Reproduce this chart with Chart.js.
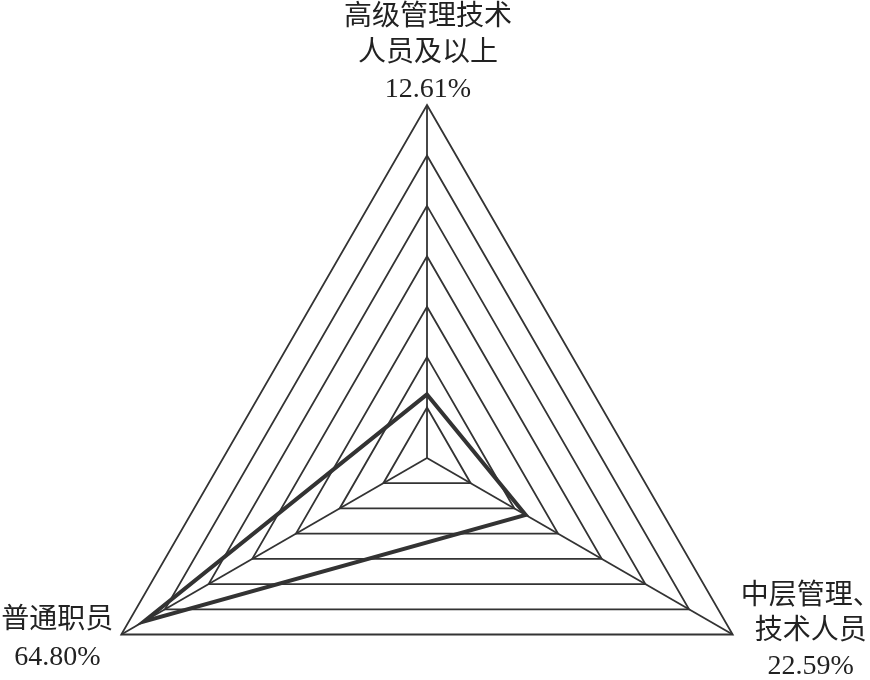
<!DOCTYPE html>
<html lang="zh">
<head>
    <meta charset="UTF-8">
    <title>职级分布雷达图</title>
    <script src="https://cdn.jsdelivr.net/npm/chart.js@4.4.2/dist/chart.umd.min.js"></script>
    <style>
        html, body { margin: 0; padding: 0; background: #fff; }
        canvas { display: block; }
    </style>
</head>
<body>
    <canvas id="radarChart" width="870" height="680"></canvas>

    <script>
        // --- data ---
        const categories = ['高级管理技术人员及以上', '中层管理、技术人员', '普通职员'];
        const labelLines = [['高级管理技术', '人员及以上'], ['中层管理、', '技术人员'], ['普通职员']];
        const shares = [12.61, 22.59, 64.80];
        const scaleMax = 70;
        const scaleStep = 10;

        const ink = '#333333';
        const labelFont = '28px "Liberation Serif", "Noto Sans CJK SC", serif';

        // where each label block sits relative to its vertex: [dx, first line dy, line height]
        const labelOffsets = [[1, -87, 36], [78, -38, 35], [-64, -14, 37]];

        // draw axis labels with the percentage under the name
        const axisLabels = {
            id: 'axisLabels',
            afterDraw(chart) {
                const scale = chart.scales.r;
                const ctx = chart.ctx;
                ctx.save();
                ctx.font = labelFont;
                ctx.fillStyle = '#222';
                ctx.textAlign = 'center';
                ctx.textBaseline = 'middle';
                categories.forEach((c, i) => {
                    const p = scale.getPointPosition(i, scale.drawingArea);
                    const [dx, dy, lh] = labelOffsets[i];
                    const lines = labelLines[i].concat([shares[i].toFixed(2) + '%']);
                    lines.forEach((txt, k) => {
                        ctx.fillText(txt, p.x + dx, p.y + dy + k * lh);
                    });
                });
                ctx.restore();
            }
        };

        new Chart(document.getElementById('radarChart'), {
            type: 'radar',
            data: {
                labels: categories,
                datasets: [{
                    data: shares,
                    borderColor: ink,
                    borderWidth: 4,
                    fill: false,
                    pointRadius: 0,
                    tension: 0
                }]
            },
            options: {
                responsive: false,
                animation: false,
                devicePixelRatio: 1,
                plugins: {
                    legend: { display: false },
                    tooltip: { enabled: false }
                },
                scales: {
                    r: {
                        min: 0,
                        max: scaleMax,
                        ticks: { display: false, stepSize: scaleStep },
                        grid: { circular: false, color: ink, lineWidth: 1.8 },
                        angleLines: { display: true, color: ink, lineWidth: 1.8 },
                        pointLabels: { display: false },
                        // pin the triangle where the reference has it
                        afterFit(scale) {
                            scale.xCenter = 427;
                            scale.yCenter = 458;
                            scale.drawingArea = 353;
                        }
                    }
                }
            },
            plugins: [axisLabels]
        });
    </script>
</body>
</html>
